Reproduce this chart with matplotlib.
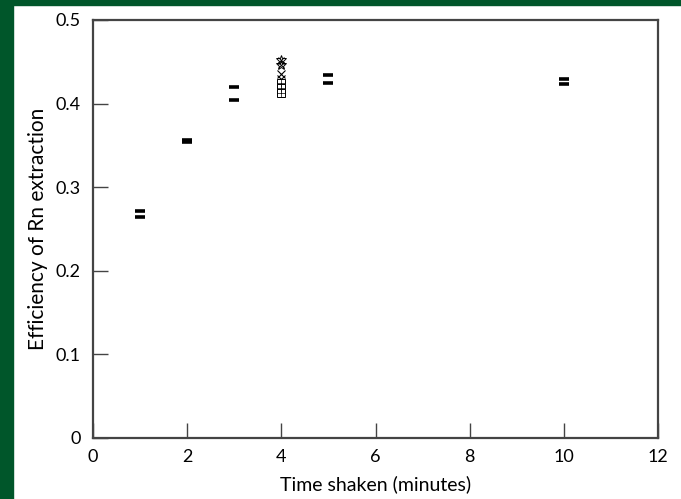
import matplotlib.pyplot as plt
from matplotlib.patches import Rectangle

plt.rcParams['font.family'] = ['Lato', 'DejaVu Sans']

# dash markers (two runs per time)
time_dash = [1, 1, 2, 2, 3, 3, 5, 5, 10, 10]
eff_dash = [0.272, 0.264, 0.357, 0.354, 0.420, 0.404, 0.434, 0.425, 0.430, 0.423]

# the stack at 4 minutes
time_star = [4, 4]
eff_star = [0.452, 0.446]
time_cross = [4, 4]
eff_cross = [0.436, 0.430]
time_square = [4, 4, 4]
eff_square = [0.425, 0.419, 0.413]

xticks = [0, 2, 4, 6, 8, 10, 12]
yticks = [0, 0.1, 0.2, 0.3, 0.4, 0.5]
ytick_labels = ["0", "0.1", "0.2", "0.3", "0.4", "0.5"]

fig = plt.figure(figsize=(6.81, 4.99), dpi=100)
green = "#00562a"
fig.patches.append(Rectangle((0, 0), 13 / 681, 1, transform=fig.transFigure,
                             color=green, zorder=0))
fig.patches.append(Rectangle((0, 1 - 5 / 499), 1, 5 / 499, transform=fig.transFigure,
                             color=green, zorder=0))

ax = fig.add_axes([93 / 681, 1 - 438 / 499, 565 / 681, 418 / 499])

ax.plot(time_dash, eff_dash, linestyle="none", marker="_", markersize=6.5,
        markeredgewidth=2.6, color="black")
ax.plot(time_star, eff_star, linestyle="none", marker="*", markersize=7,
        markerfacecolor="none", markeredgecolor="black", markeredgewidth=0.7)
ax.plot(time_star, eff_star, linestyle="none", marker="x", markersize=5,
        color="black", markeredgewidth=0.7)
ax.plot(time_cross, eff_cross, linestyle="none", marker="x", markersize=6,
        color="black", markeredgewidth=0.8)
ax.plot(time_square, eff_square, linestyle="none", marker="s", markersize=5.5,
        markerfacecolor="white", markeredgecolor="black", markeredgewidth=0.7)
ax.plot(time_square, eff_square, linestyle="none", marker="+", markersize=5.5,
        color="black", markeredgewidth=0.5)

ax.set_xlim(0, 12)
ax.set_ylim(0, 0.5)
ax.set_xticks(xticks)
ax.set_yticks(yticks)
ax.set_yticklabels(ytick_labels)
ax.tick_params(direction="in", length=11, width=1, color="#444444",
               labelsize=13)
ax.tick_params(axis="x", pad=8)
ax.tick_params(axis="y", pad=9)

for s in ax.spines.values():
    s.set_linewidth(1.6)
    s.set_color("#444444")

ax.set_xlabel("Time shaken (minutes)", fontsize=14, labelpad=7)
ax.set_ylabel("Efficiency of Rn extraction", fontsize=15, labelpad=5)

fig.savefig("out.png", dpi=100)
